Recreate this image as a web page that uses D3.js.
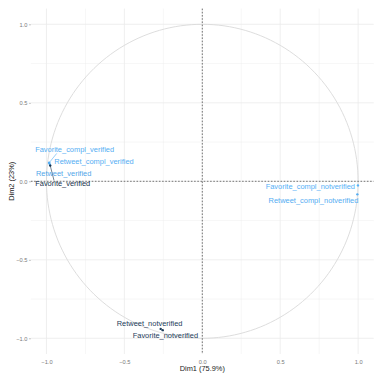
<!DOCTYPE html>
<html><head><meta charset="utf-8">
<script src="https://cdn.jsdelivr.net/npm/d3@7"></script>
<style>body{margin:0;background:#fff}svg{display:block}</style>
</head><body><svg id="c" width="375" height="374"></svg>
<script>
// ---- data ----
const variables = ["Favorite_compl_verified","Retweet_compl_verified","Retweet_verified","Favorite_verified",
  "Favorite_compl_notverified","Retweet_compl_notverified","Retweet_notverified","Favorite_notverified"];
const dim1 = [-0.983,-0.982,-0.978,-0.976, 0.999, 0.995,-0.267,-0.254];
const dim2 = [ 0.118, 0.116, 0.106, 0.100,-0.026,-0.083,-0.940,-0.948];
const cos2 = [0.98,0.98,0.92,0.05,1.0,0.97,0.13,0.13];
const axisTicks = [-1.0,-0.5,0.0,0.5,1.0];
const gridTicks = [-1.0,-0.75,-0.5,-0.25,0,0.25,0.5,0.75,1.0];
const xTitle = "Dim1 (75.9%)", yTitle = "Dim2 (23%)";
// label placement (pixel offsets from point: text start x, centre y)
const labelDx = [-14,5,-14,-15,-3,1,-44,-30];
const labelDy = [-13,-1.4,8.3,18.1,0.6,5.7,-5.6,5.6];
const labelAnchor = ["start","start","start","start","end","end","start","start"];

const svg = d3.select("#c");
const x = d3.scaleLinear().domain([-1.1,1.1]).range([30.9,373.7]);
const y = d3.scaleLinear().domain([-1.1,1.1]).range([354,8.6]);
const col = d3.scaleLinear().domain([0,1]).range(["#132B43","#56B1F7"]);
const FONT = "Liberation Sans, Arial, sans-serif";

// grid
const g = svg.append("g");
gridTicks.forEach(t=>{
  const major = axisTicks.includes(t);
  g.append("line").attr("x1",x(t)).attr("x2",x(t)).attr("y1",y.range()[1]).attr("y2",y.range()[0])
   .attr("stroke","#ebebeb").attr("stroke-width",major?0.8:0.45);
  g.append("line").attr("y1",y(t)).attr("y2",y(t)).attr("x1",x.range()[0]).attr("x2",x.range()[1])
   .attr("stroke","#ebebeb").attr("stroke-width",major?0.8:0.45);
});

// circle
const circ = d3.range(0,361,2).map(a=>[Math.cos(a*Math.PI/180),Math.sin(a*Math.PI/180)]);
svg.append("path").attr("d",d3.line().x(d=>x(d[0])).y(d=>y(d[1]))(circ))
  .attr("fill","none").attr("stroke","#d9d9d9").attr("stroke-width",0.9);

// dashed zero lines
svg.append("line").attr("x1",x(0)).attr("x2",x(0)).attr("y1",y.range()[1]).attr("y2",y.range()[0])
  .attr("stroke","#555").attr("stroke-width",0.8).attr("stroke-dasharray","1.6,1.6");
svg.append("line").attr("y1",y(0)).attr("y2",y(0)).attr("x1",x.range()[0]).attr("x2",x.range()[1])
  .attr("stroke","#555").attr("stroke-width",0.8).attr("stroke-dasharray","1.6,1.6");

// axes
const xa = svg.append("g").attr("transform",`translate(0,${y.range()[0]})`)
  .call(d3.axisBottom(x).tickValues(axisTicks).tickFormat(d3.format(".1f")).tickSize(2).tickPadding(3.5));
const ya = svg.append("g").attr("transform",`translate(${x.range()[0]},0)`)
  .call(d3.axisLeft(y).tickValues(axisTicks).tickFormat(d3.format(".1f")).tickSize(2).tickPadding(1.5));
[xa,ya].forEach(a=>{
  a.select(".domain").remove();
  a.selectAll("text").attr("fill","#7a7a7a").style("font-family",FONT).style("font-size","5.7px");
  a.selectAll("line").attr("stroke","#999").attr("stroke-width",0.6);
});
xa.selectAll("line").remove();
svg.append("text").attr("x",x(0)).attr("y",371).attr("text-anchor","middle")
  .style("font-family",FONT).style("font-size","7.4px").attr("fill","#222").text(xTitle);
svg.append("text").attr("transform",`translate(14,${y(0)}) rotate(-90)`).attr("text-anchor","middle")
  .style("font-family",FONT).style("font-size","7.4px").attr("fill","#222").text(yTitle);

// labels + segments
const data = variables.map((n,i)=>({n,x:x(dim1[i]),y:y(dim2[i]),c:col(cos2[i]),dx:labelDx[i],dy:labelDy[i],a:labelAnchor[i]}));
const labs = svg.append("g");
data.forEach(d=>{
  const t = labs.append("text").attr("x",d.x+d.dx).attr("y",d.y+d.dy).attr("dy","0.35em")
    .attr("text-anchor",d.a).attr("fill",d.c)
    .style("font-family",FONT).style("font-size","7.45px").text(d.n);
  const b = t.node().getBBox();
  const nx = Math.max(b.x,Math.min(d.x,b.x+b.width)), ny = Math.max(b.y+1,Math.min(d.y,b.y+b.height-1));
  const dist = Math.hypot(nx-d.x,ny-d.y);
  if(dist>6){
    const cx=b.x+b.width/2;
    const ex = d.x+(cx-d.x)*0.3, ey = ny;
    labs.insert("line","text").attr("x1",d.x).attr("y1",d.y).attr("x2",Math.min(ex,nx+8)).attr("y2",ey)
      .attr("stroke",d.c).attr("stroke-width",0.6);
  }
});
// points
svg.append("g").selectAll("circle").data(data).join("circle")
  .attr("cx",d=>d.x).attr("cy",d=>d.y).attr("r",1.2).attr("fill",d=>d.c);
</script></body></html>
